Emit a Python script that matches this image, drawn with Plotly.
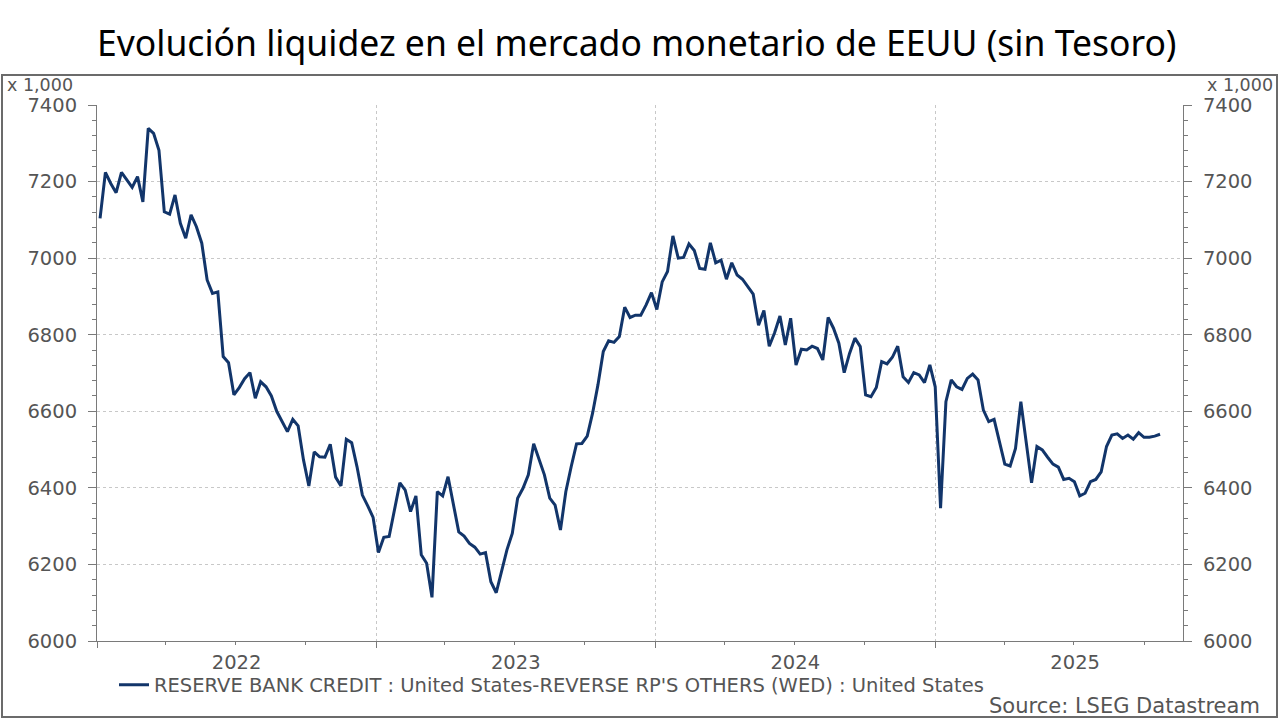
import pandas as pd
import plotly.graph_objects as go

# Weekly observations (Wednesdays) starting 2022-01-05, values in thousands
start_date = "2022-01-05"
values = [
    7104, 7224, 7195, 7171, 7224, 7204, 7185, 7213, 7147, 7339,
    7326, 7282, 7121, 7115, 7165, 7091, 7052, 7113, 7082, 7039,
    6943, 6908, 6912, 6743, 6727, 6643, 6662, 6685, 6701, 6634,
    6677, 6664, 6640, 6600, 6575, 6547, 6579, 6562, 6473, 6405,
    6494, 6481, 6480, 6514, 6428, 6405, 6527, 6518, 6455, 6381,
    6353, 6323, 6231, 6271, 6273, 6340, 6413, 6394, 6338, 6379,
    6225, 6203, 6114, 6390, 6379, 6429, 6360, 6285, 6274, 6255,
    6245, 6227, 6231, 6155, 6126, 6185, 6238, 6281, 6373, 6399,
    6434, 6515, 6475, 6434, 6373, 6355, 6290, 6390, 6455, 6515,
    6516, 6535, 6595, 6669, 6756, 6784, 6780, 6795, 6872, 6845,
    6851, 6851, 6878, 6910, 6866, 6938, 6965, 7058, 7000, 7002,
    7037, 7020, 6973, 6971, 7040, 6988, 6995, 6945, 6988, 6956,
    6945, 6927, 6906, 6825, 6863, 6770, 6805, 6849, 6773, 6843,
    6721, 6762, 6760, 6770, 6764, 6734, 6845, 6817, 6778, 6701,
    6751, 6791, 6769, 6643, 6638, 6662, 6730, 6724, 6741, 6770,
    6690, 6675, 6701, 6695, 6675, 6721, 6664, 6347, 6625, 6682,
    6664, 6657, 6686, 6697, 6682, 6603, 6573, 6579, 6516, 6462,
    6457, 6503, 6625, 6516, 6413, 6508, 6499, 6480, 6462, 6454,
    6422, 6425, 6416, 6379, 6386, 6416, 6422, 6442, 6508, 6538,
    6541, 6529, 6538, 6527, 6544, 6532, 6532, 6535, 6540,
]
dates = pd.date_range(start_date, periods=len(values), freq="7D")

series_name = "RESERVE BANK CREDIT : United States-REVERSE RP'S OTHERS (WED) : United States"
title_text = "Evolución liquidez en el mercado monetario de EEUU (sin Tesoro)"
source_text = "Source: LSEG Datastream"
scale_text = "x 1,000"
y_ticks = [6000, 6200, 6400, 6600, 6800, 7000, 7200, 7400]

W, H = 1280, 720
L, R, T, B = 97, 1183, 105, 641


def xp(px):
    return (px - L) / (R - L)


def yp(py):
    return (B - py) / (B - T)


LINE = "#12356a"
GREY = "#555555"
AXIS = "#7a7a7a"
TICKFONT = dict(family="DejaVu Sans", size=19.5, color=GREY)

fig = go.Figure()
fig.add_trace(go.Scatter(x=dates, y=values, mode="lines", name=series_name,
                         line=dict(color=LINE, width=3)))
fig.add_trace(go.Scatter(x=dates, y=values, mode="lines", yaxis="y2",
                         line=dict(color="rgba(0,0,0,0)", width=0),
                         showlegend=False, hoverinfo="skip"))

yaxis_common = dict(
    range=[6000, 7400], tickvals=y_ticks, ticks="outside", ticklen=8,
    tickcolor=AXIS, tickwidth=1, showline=True, linecolor=AXIS, linewidth=1,
    tickfont=TICKFONT, zeroline=False, ticklabelstandoff=7,
    minor=dict(dtick=40, ticks="outside", ticklen=4, tickcolor=AXIS, showgrid=False),
)

fig.update_layout(
    width=W, height=H,
    margin=dict(l=L, r=W - R, t=T, b=H - B),
    paper_bgcolor="white", plot_bgcolor="white",
    showlegend=True,
    legend=dict(x=xp(114), y=yp(685), xanchor="left", yanchor="middle",
                orientation="h", font=dict(family="DejaVu Sans", size=19.5, color=GREY),
                bgcolor="rgba(0,0,0,0)"),
    xaxis=dict(
        type="date", range=["2022-01-01", "2025-11-21"],
        tick0="2022-01-01", dtick="M12", ticklabelmode="period",
        tickformat="%Y", ticks="outside", ticklen=6, tickcolor=AXIS,
        showline=True, linecolor=AXIS, linewidth=1,
        showgrid=True, gridcolor="#c8c8c8", griddash="dot", gridwidth=1,
        tickfont=TICKFONT, ticklabelstandoff=-2,
        minor=dict(dtick="M3", ticks="outside", ticklen=3, tickcolor=AXIS, showgrid=False),
    ),
    yaxis=dict(side="left", showgrid=True, gridcolor="#c8c8c8", griddash="dot",
               gridwidth=1, **yaxis_common),
    yaxis2=dict(side="right", overlaying="y", showgrid=False, **yaxis_common),
)

# outer frame
fig.add_shape(type="rect", xref="paper", yref="paper",
              x0=xp(2), x1=xp(1277), y0=yp(717), y1=yp(75),
              line=dict(color="#6b6b6b", width=2), fillcolor="rgba(0,0,0,0)",
              layer="below")

fig.add_annotation(text=title_text, xref="paper", yref="paper",
                   x=xp(637), y=yp(42), xanchor="center", yanchor="middle",
                   showarrow=False, font=dict(family="Noto Sans", size=35.5, color="black"))
fig.add_annotation(text=scale_text, xref="paper", yref="paper",
                   x=xp(5), y=yp(85), xanchor="left", yanchor="middle",
                   showarrow=False, font=dict(family="DejaVu Sans", size=17.5, color=GREY))
fig.add_annotation(text=scale_text, xref="paper", yref="paper",
                   x=xp(1275), y=yp(85), xanchor="right", yanchor="middle",
                   showarrow=False, font=dict(family="DejaVu Sans", size=17.5, color=GREY))
fig.add_annotation(text=source_text, xref="paper", yref="paper",
                   x=xp(1262), y=yp(706), xanchor="right", yanchor="middle",
                   showarrow=False, font=dict(family="DejaVu Sans", size=21, color=GREY))

fig.write_html("out.html", config={"responsive": False, "displayModeBar": False},
               post_script="document.body.style.margin='0';")
